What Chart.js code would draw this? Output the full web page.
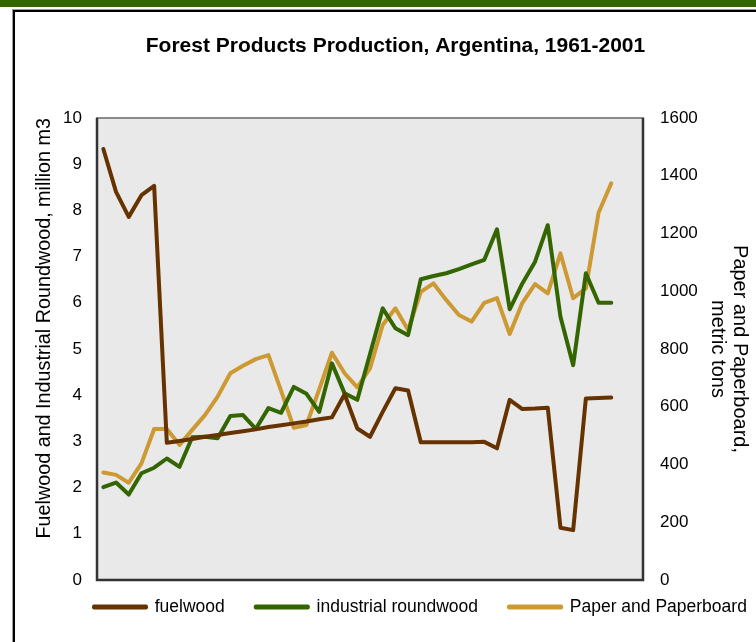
<!DOCTYPE html>
<html><head><meta charset="utf-8">
<script src="https://cdn.jsdelivr.net/npm/chart.js@4.4.1/dist/chart.umd.min.js"></script>
<style>
html,body{margin:0;padding:0;background:#fff;}
#wrap{position:relative;width:756px;height:642px;overflow:hidden;}
#band{position:absolute;left:0;top:0;width:756px;height:7px;background:#336600;}
#frame{position:absolute;left:13px;top:10px;width:800px;height:700px;border:2px solid #000;box-shadow:-1px -1px 0 #9a9a9a;}
canvas{position:absolute;left:0;top:0;}
</style></head><body>
<div id="wrap"><div id="band"></div><div id="frame"></div><canvas id="c" width="756" height="642"></canvas></div>
<script>
const years = [1961,1962,1963,1964,1965,1966,1967,1968,1969,1970,1971,1972,1973,1974,1975,1976,1977,1978,1979,1980,1981,1982,1983,1984,1985,1986,1987,1988,1989,1990,1991,1992,1993,1994,1995,1996,1997,1998,1999,2000,2001];
const fuelwood = [9.33,8.40,7.86,8.33,8.53,2.97,3.01,3.05,3.10,3.14,3.18,3.22,3.26,3.31,3.35,3.39,3.43,3.48,3.52,4.02,3.28,3.10,3.64,4.15,4.10,2.98,2.98,2.98,2.98,2.98,2.99,2.85,3.90,3.70,3.71,3.73,1.13,1.08,3.93,3.94,3.95];
const industrialRoundwood = [2.01,2.11,1.85,2.31,2.43,2.63,2.45,3.09,3.10,3.07,3.55,3.57,3.27,3.72,3.62,4.18,4.03,3.64,4.69,4.04,3.90,4.89,5.88,5.45,5.30,6.51,6.58,6.64,6.73,6.83,6.93,7.59,5.86,6.42,6.89,7.68,5.70,4.65,6.64,6.00,6.00];
const paperAndPaperboard = [372,364,337,404,523,523,468,520,571,635,716,742,765,779,655,527,537,660,787,716,667,733,883,941,866,998,1027,970,918,895,960,976,852,960,1025,993,1131,976,1010,1272,1374];
const leftTicks = [0,1,2,3,4,5,6,7,8,9,10];
const rightTicks = [0,200,400,600,800,1000,1200,1400,1600];
const seriesNames = ['fuelwood','industrial roundwood','Paper and Paperboard'];

const FONT = "'Liberation Sans', Arial, sans-serif";
const pts = arr => years.map((y, i) => ({x: y, y: arr[i]}));

const plotFrame = {
  id: 'plotFrame',
  beforeDatasetsDraw(chart) {
    const {ctx, chartArea: a} = chart;
    ctx.save();
    ctx.fillStyle = '#e9e9e9';
    ctx.fillRect(a.left, a.top, a.right - a.left, a.bottom - a.top);
    ctx.strokeStyle = '#8a8a8a';
    ctx.lineWidth = 2;
    ctx.strokeRect(a.left, a.top, a.right - a.left, a.bottom - a.top);
    ctx.strokeStyle = '#333';
    ctx.lineWidth = 2.5;
    ctx.beginPath();
    ctx.moveTo(a.left, a.top); ctx.lineTo(a.left, a.bottom); ctx.lineTo(a.right, a.bottom); ctx.lineTo(a.right, a.top);
    ctx.stroke();
    ctx.restore();
  }
};
const legendNudge = {
  id: 'legendNudge',
  afterLayout(chart) {
    const lg = chart.legend;
    lg.left += 28; lg.right += 60;
    lg.top -= 12.75; lg.bottom -= 12.75;
  }
};

const common = {pointRadius: 0, borderWidth: 4, borderJoinStyle: 'round', borderCapStyle: 'round', tension: 0};
new Chart(document.getElementById('c'), {
  type: 'line',
  data: {
    datasets: [
      {...common, label: seriesNames[0], data: pts(fuelwood), borderColor: '#663300', backgroundColor: '#663300', yAxisID: 'y'},
      {...common, label: seriesNames[1], data: pts(industrialRoundwood), borderColor: '#336600', backgroundColor: '#336600', yAxisID: 'y'},
      {...common, label: seriesNames[2], data: pts(paperAndPaperboard), borderColor: '#cc9933', backgroundColor: '#cc9933', yAxisID: 'y1'}
    ]
  },
  options: {
    responsive: false, animation: false, devicePixelRatio: 1,
    layout: {padding: {left: 35, right: 0, top: 0, bottom: 3.5}},
    scales: {
      x: {type: 'linear', display: false, min: years[0] - 0.5, max: years[years.length - 1] + 2.5},
      y: {
        position: 'left', min: 0, max: 10,
        afterBuildTicks: s => { s.ticks = leftTicks.map(v => ({value: v})); },
        afterFit: s => { s.width = 62; },
        grid: {display: false, drawTicks: false}, border: {display: false},
        ticks: {color: '#000', font: {family: FONT, size: 17}, padding: 15, callback: v => String(v)},
        title: {display: true, text: 'Fuelwood and Industrial Roundwood, million m3', align: 'end', color: '#000',
                font: {family: FONT, size: 19.75}, padding: {top: -2, bottom: 0}}
      },
      y1: {
        position: 'right', min: 0, max: 1600,
        afterBuildTicks: s => { s.ticks = rightTicks.map(v => ({value: v})); },
        afterFit: s => { s.width = 113; },
        grid: {display: false, drawTicks: false}, border: {display: false},
        ticks: {color: '#000', font: {family: FONT, size: 17}, padding: 17, callback: v => String(v)},
        title: {display: true, text: ['Paper and Paperboard,', 'metric tons'], color: '#000',
                font: {family: FONT, size: 20, lineHeight: 1.1}, padding: {top: 5, bottom: 0}}
      }
    },
    plugins: {
      title: {display: true, text: 'Forest Products Production, Argentina, 1961-2001', color: '#000',
              font: {family: FONT, size: 21, weight: 'bold'}, padding: {top: 33.5, bottom: 59.3}},
      legend: {position: 'bottom', align: 'start', labels: {boxWidth: 52, boxHeight: 1, padding: 31, color: '#000',
              font: {family: FONT, size: 17.5}}},
      tooltip: {enabled: false}
    }
  },
  plugins: [plotFrame, legendNudge]
});
</script></body></html>
